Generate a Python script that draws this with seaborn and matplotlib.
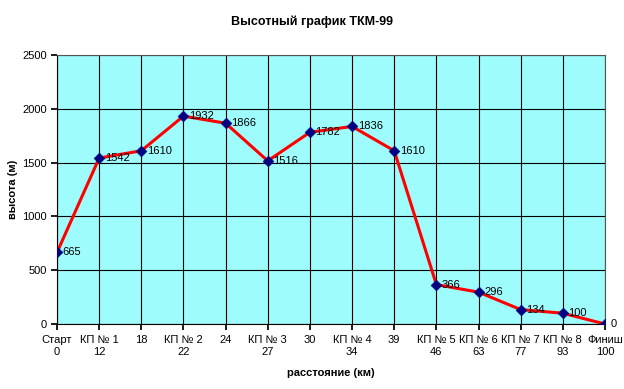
import matplotlib
matplotlib.use("Agg")
import matplotlib.pyplot as plt
import seaborn as sns
import numpy as np
import pandas as pd

names = ["Старт", "КП № 1", "", "КП № 2", "", "КП № 3", "", "КП № 4", "",
         "КП № 5", "КП № 6", "КП № 7", "КП № 8", "Финиш"]
distances = [0, 12, 18, 22, 24, 27, 30, 34, 39, 46, 63, 77, 93, 100]
heights = [665, 1542, 1610, 1932, 1866, 1516, 1782, 1836, 1610, 366, 296, 134, 100, 0]

sns.set_theme(style="white")
plt.rcParams['font.family'] = ['Liberation Sans', 'DejaVu Sans']
plt.rcParams['text.color'] = 'black'
plt.rcParams['axes.labelcolor'] = 'black'
plt.rcParams['xtick.color'] = 'black'
plt.rcParams['ytick.color'] = 'black'

df = pd.DataFrame({"pos": np.arange(len(heights)), "h": heights})

fig = plt.figure(figsize=(6.24, 3.89), dpi=100)
ax = fig.add_axes([57/624, 1-324/389, (605-57)/624, (324-55)/389])
ax.set_facecolor("#9FFCFC")

sns.lineplot(data=df, x="pos", y="h", ax=ax, color="#FF0000", linewidth=2.2, zorder=3)
sns.scatterplot(data=df, x="pos", y="h", ax=ax, marker="D", s=30, color="#000080",
                edgecolor="#000080", zorder=4)

for p, h in zip(df["pos"], heights):
    ax.annotate(str(h), (p, h), xytext=(4, 0), textcoords="offset points",
                ha="left", va="center", fontsize=8, color="black", zorder=5)

ax.set_xlim(0, len(heights) - 1)
ax.set_ylim(0, 2500)
ax.set_yticks(np.arange(0, 2501, 500))
ax.set_xticks(df["pos"])
labels = [f"{n}\n{d}" if n else f"{d}" for n, d in zip(names, distances)]
ax.set_xticklabels(labels, fontsize=8)
for t in ax.get_xticklabels():
    t.set_verticalalignment("top")
ax.tick_params(axis="y", labelsize=8, length=4, direction="out", left=True, color="black")
ax.tick_params(axis="x", length=4, direction="out", bottom=True, color="black", pad=4)
ax.grid(True, color="black", linewidth=0.8)
ax.set_axisbelow(True)
for s in ax.spines.values():
    s.set_visible(True)
    s.set_color("#555555")
    s.set_linewidth(0.8)
ax.spines["left"].set_color("black")
ax.spines["bottom"].set_color("black")

ax.set_xlabel("расстояние (км)", fontsize=8, fontweight="bold", labelpad=8)
ax.set_ylabel("высота (м)", fontsize=8, fontweight="bold", labelpad=3)
fig.suptitle("Высотный график ТКМ-99", x=0.5, y=1-22/389, va="center",
             fontsize=9, fontweight="bold", color="black")

fig.savefig("out.png", dpi=100)
